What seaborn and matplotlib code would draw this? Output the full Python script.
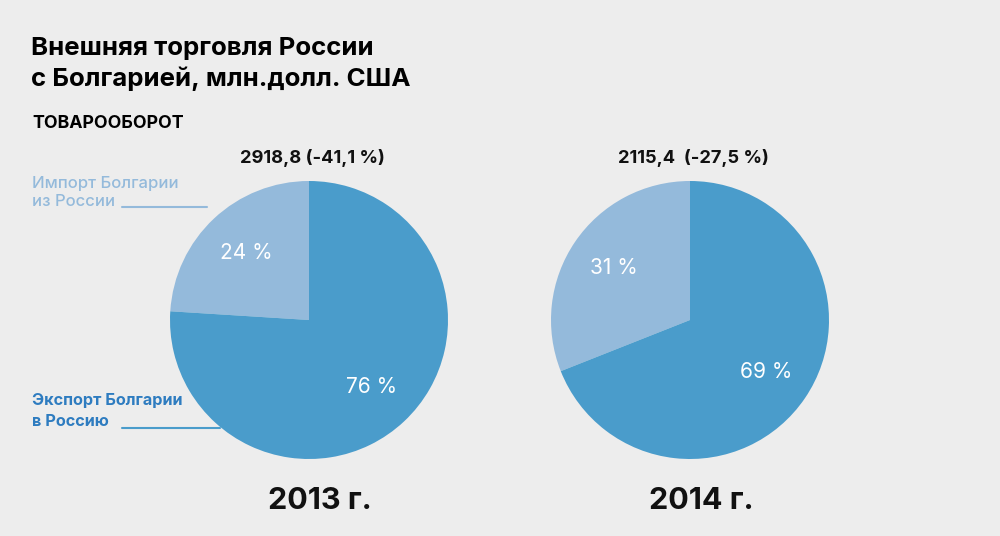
import matplotlib
matplotlib.use("Agg")
import matplotlib.pyplot as plt
import seaborn as sns

# data
years = ["2013 г.", "2014 г."]
totals = ["2918,8 (-41,1 %)", "2115,4  (-27,5 %)"]
import_share = [24, 31]   # импорт Болгарии из России
export_share = [76, 69]   # экспорт Болгарии в Россию

bg = "#ededed"
c_export = "#4a9ccb"
c_import = "#94badb"
c_export_txt = "#2e7cc0"

sns.set_theme(style="white")
plt.rcParams['font.family'] = ['Inter', 'DejaVu Sans']

fig = plt.figure(figsize=(10, 5.36), dpi=100, facecolor=bg)

# pie positions in pixels (centre x, centre y) and radius
centres = [(309, 320), (690, 320)]
radius = 139

for i in range(2):
    cx, cy = centres[i]
    ax = fig.add_axes([(cx - radius) / 1000, 1 - (cy + radius) / 536,
                       2 * radius / 1000, 2 * radius / 536])
    ax.set_facecolor(bg)
    wedges, texts, autotexts = ax.pie(
        [import_share[i], export_share[i]],
        colors=[c_import, c_export],
        startangle=90, counterclock=True,
        autopct=lambda p: "%d %%" % round(p),
        pctdistance=0.66,
        wedgeprops=dict(linewidth=0),
        textprops=dict(color="white", fontsize=15, fontweight="normal"))
    ax.set_xlim(-1, 1)
    ax.set_ylim(-1, 1)
    ax.set_aspect("equal")
    ax.axis("off")

    fig.text(cx / 1000 + 0.003, 1 - 158 / 536, totals[i], ha="center", va="center",
             fontsize=13.2, fontweight="bold", color="#111111")
    fig.text(cx / 1000 + 0.011, 1 - 501 / 536, years[i], ha="center", va="center",
             fontsize=22, fontweight="bold", color="#111111")

# titles
fig.text(0.031, 1 - 48 / 536, "Внешняя торговля России", ha="left", va="center",
         fontsize=18.6, fontweight="bold", color="black")
fig.text(0.031, 1 - 79 / 536, "с Болгарией, млн.долл. США", ha="left", va="center",
         fontsize=18.6, fontweight="bold", color="black")
fig.text(0.032, 1 - 123 / 536, "ТОВАРООБОРОТ", ha="left", va="center",
         fontsize=12.8, fontweight="bold", color="black")

# legend-like labels with leader lines
fig.text(0.032, 1 - 183 / 536, "Импорт Болгарии", ha="left", va="center",
         fontsize=12, fontweight="medium", color=c_import)
fig.text(0.032, 1 - 202 / 536, "из России", ha="left", va="center",
         fontsize=12, fontweight="medium", color=c_import)
fig.add_artist(plt.Line2D([0.122, 0.207], [1 - 207 / 536, 1 - 207 / 536],
                          color=c_import, lw=1.5))

fig.text(0.032, 1 - 401 / 536, "Экспорт Болгарии", ha="left", va="center",
         fontsize=11.7, fontweight="bold", color=c_export_txt)
fig.text(0.032, 1 - 422 / 536, "в Россию", ha="left", va="center",
         fontsize=11.7, fontweight="bold", color=c_export_txt)
fig.add_artist(plt.Line2D([0.122, 0.220], [1 - 428 / 536, 1 - 428 / 536],
                          color=c_export, lw=1.5))

fig.savefig("out.png", dpi=100, facecolor=bg)
